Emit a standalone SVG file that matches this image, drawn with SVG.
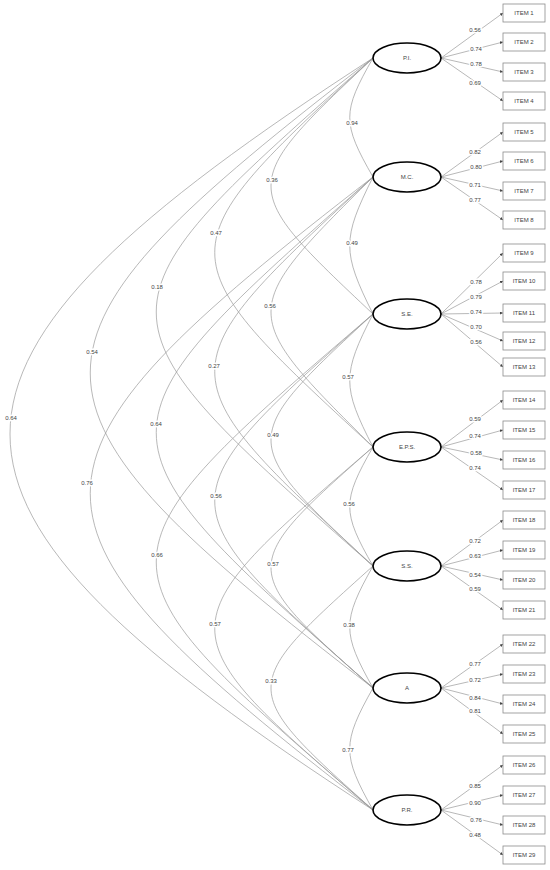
<svg xmlns="http://www.w3.org/2000/svg" width="550" height="870" viewBox="0 0 550 870">
<style>
text{font-family:"Liberation Sans",Arial,sans-serif;font-size:6px;fill:#444;text-anchor:middle;dominant-baseline:central}
.lbl{paint-order:stroke;stroke:#fff;stroke-width:3px;stroke-linejoin:round}
.cov path{fill:none;stroke:#9a9a9a;stroke-width:0.7}
.load line{stroke:#9a9a9a;stroke-width:0.7;marker-end:url(#ah)}
.lat ellipse{fill:#fff;stroke:#000;stroke-width:1.6}
.item rect{fill:#fff;stroke:#8c8c8c;stroke-width:0.8}
</style>
<defs>
<marker id="ah" viewBox="0 0 6 6" refX="6" refY="3" markerWidth="3" markerHeight="3" orient="auto" markerUnits="userSpaceOnUse">
<path d="M0,0 L6,3 L0,6 z" fill="#444"/>
</marker>
</defs>
<rect width="550" height="870" fill="#fff"/>
<g id="connectors">
<g class="cov">
<path d="M373,58 C342,112 342,123 373,177"/>
<path d="M373,177 C342,239 342,252 373,314"/>
<path d="M373,314 C342,374 342,387 373,447"/>
<path d="M373,447 C342,501 342,512 373,566"/>
<path d="M373,566 C342,621 342,633 373,688"/>
<path d="M373,688 C342,743 342,755 373,810"/>
<path d="M373,58 C237,186 237,186 373,314"/>
<path d="M373,177 C237,312 237,312 373,447"/>
<path d="M373,314 C237,440 237,440 373,566"/>
<path d="M373,447 C237,567 237,568 373,688"/>
<path d="M373,566 C237,688 237,688 373,810"/>
<path d="M373,58 C162,252 162,253 373,447"/>
<path d="M373,177 C162,371 162,372 373,566"/>
<path d="M373,314 C162,501 162,501 373,688"/>
<path d="M373,447 C162,628 162,629 373,810"/>
<path d="M373,58 C84,312 84,312 373,566"/>
<path d="M373,177 C84,432 84,433 373,688"/>
<path d="M373,314 C84,562 84,562 373,810"/>
<path d="M373,58 C-4,348 -4,398 373,688"/>
<path d="M373,177 C-4,468 -4,519 373,810"/>
<path d="M373,58 C-111,371 -111,497 373,810"/>
</g>
<g class="covlabels">
<text class="lbl" x="352" y="123">0.94</text>
<text class="lbl" x="272" y="180">0.36</text>
<text class="lbl" x="216" y="233">0.47</text>
<text class="lbl" x="157" y="287">0.18</text>
<text class="lbl" x="92" y="352">0.54</text>
<text class="lbl" x="11" y="418">0.64</text>
<text class="lbl" x="352" y="243">0.49</text>
<text class="lbl" x="270" y="306">0.56</text>
<text class="lbl" x="214" y="366">0.27</text>
<text class="lbl" x="156" y="424">0.64</text>
<text class="lbl" x="87" y="483">0.76</text>
<text class="lbl" x="348" y="377">0.57</text>
<text class="lbl" x="273" y="435">0.49</text>
<text class="lbl" x="216" y="496">0.56</text>
<text class="lbl" x="157" y="555">0.66</text>
<text class="lbl" x="349" y="504">0.56</text>
<text class="lbl" x="273" y="564">0.57</text>
<text class="lbl" x="215" y="624">0.57</text>
<text class="lbl" x="349" y="625">0.38</text>
<text class="lbl" x="271" y="681">0.33</text>
<text class="lbl" x="348" y="750">0.77</text>
</g>
<g class="load">
<line x1="441" y1="58" x2="503" y2="13"/>
<line x1="441" y1="58" x2="503" y2="42"/>
<line x1="441" y1="58" x2="503" y2="72"/>
<line x1="441" y1="58" x2="503" y2="101"/>
<line x1="441" y1="177" x2="503" y2="132"/>
<line x1="441" y1="177" x2="503" y2="161"/>
<line x1="441" y1="177" x2="503" y2="191"/>
<line x1="441" y1="177" x2="503" y2="220"/>
<line x1="441" y1="314" x2="503" y2="253"/>
<line x1="441" y1="314" x2="503" y2="281"/>
<line x1="441" y1="314" x2="503" y2="313"/>
<line x1="441" y1="314" x2="503" y2="341"/>
<line x1="441" y1="314" x2="503" y2="367"/>
<line x1="441" y1="447" x2="503" y2="400"/>
<line x1="441" y1="447" x2="503" y2="430"/>
<line x1="441" y1="447" x2="503" y2="460"/>
<line x1="441" y1="447" x2="503" y2="490"/>
<line x1="441" y1="566" x2="503" y2="520"/>
<line x1="441" y1="566" x2="503" y2="550"/>
<line x1="441" y1="566" x2="503" y2="580"/>
<line x1="441" y1="566" x2="503" y2="610"/>
<line x1="441" y1="688" x2="503" y2="644"/>
<line x1="441" y1="688" x2="503" y2="674"/>
<line x1="441" y1="688" x2="503" y2="704"/>
<line x1="441" y1="688" x2="503" y2="734"/>
<line x1="441" y1="810" x2="503" y2="765"/>
<line x1="441" y1="810" x2="503" y2="795"/>
<line x1="441" y1="810" x2="503" y2="825"/>
<line x1="441" y1="810" x2="503" y2="855"/>
</g>
<g class="loadlabels">
<text class="lbl" x="475" y="30">0.56</text>
<text class="lbl" x="476" y="49">0.74</text>
<text class="lbl" x="476" y="64">0.78</text>
<text class="lbl" x="475" y="83">0.69</text>
<text class="lbl" x="475" y="152">0.82</text>
<text class="lbl" x="476" y="167">0.80</text>
<text class="lbl" x="475" y="185">0.71</text>
<text class="lbl" x="475" y="200">0.77</text>
<text class="lbl" x="476" y="282">0.78</text>
<text class="lbl" x="476" y="297">0.79</text>
<text class="lbl" x="476" y="312">0.74</text>
<text class="lbl" x="476" y="327">0.70</text>
<text class="lbl" x="476" y="342">0.56</text>
<text class="lbl" x="475" y="419">0.59</text>
<text class="lbl" x="475" y="436">0.74</text>
<text class="lbl" x="476" y="453">0.58</text>
<text class="lbl" x="475" y="468">0.74</text>
<text class="lbl" x="475" y="541">0.72</text>
<text class="lbl" x="475" y="556">0.63</text>
<text class="lbl" x="475" y="575">0.54</text>
<text class="lbl" x="475" y="589">0.59</text>
<text class="lbl" x="475" y="664">0.77</text>
<text class="lbl" x="475" y="680">0.72</text>
<text class="lbl" x="475" y="698">0.84</text>
<text class="lbl" x="475" y="711">0.81</text>
<text class="lbl" x="475" y="786">0.85</text>
<text class="lbl" x="475" y="803">0.90</text>
<text class="lbl" x="476" y="820">0.76</text>
<text class="lbl" x="475" y="835">0.48</text>
</g>
</g>
<g class="lat">
<g id="PI"><ellipse cx="407" cy="58" rx="34" ry="15"/><text x="407" y="58">P.I.</text></g>
<g id="MC"><ellipse cx="407" cy="177" rx="34" ry="15"/><text x="407" y="177">M.C.</text></g>
<g id="SE"><ellipse cx="407" cy="314" rx="34" ry="15"/><text x="407" y="314">S.E.</text></g>
<g id="EPS"><ellipse cx="407" cy="447" rx="34" ry="15"/><text x="407" y="447">E.P.S.</text></g>
<g id="SS"><ellipse cx="407" cy="566" rx="34" ry="15"/><text x="407" y="566">S.S.</text></g>
<g id="A"><ellipse cx="407" cy="688" rx="34" ry="15"/><text x="407" y="688">A</text></g>
<g id="PR"><ellipse cx="407" cy="810" rx="34" ry="15"/><text x="407" y="810">P.R.</text></g>
</g>
<g class="item">
<g id="item1"><rect x="503" y="4" width="42" height="18"/><text x="524" y="13">ITEM 1</text></g>
<g id="item2"><rect x="503" y="33" width="42" height="18"/><text x="524" y="42">ITEM 2</text></g>
<g id="item3"><rect x="503" y="63" width="42" height="18"/><text x="524" y="72">ITEM 3</text></g>
<g id="item4"><rect x="503" y="92" width="42" height="18"/><text x="524" y="101">ITEM 4</text></g>
<g id="item5"><rect x="503" y="123" width="42" height="18"/><text x="524" y="132">ITEM 5</text></g>
<g id="item6"><rect x="503" y="152" width="42" height="18"/><text x="524" y="161">ITEM 6</text></g>
<g id="item7"><rect x="503" y="182" width="42" height="18"/><text x="524" y="191">ITEM 7</text></g>
<g id="item8"><rect x="503" y="211" width="42" height="18"/><text x="524" y="220">ITEM 8</text></g>
<g id="item9"><rect x="503" y="244" width="42" height="18"/><text x="524" y="253">ITEM 9</text></g>
<g id="item10"><rect x="503" y="272" width="42" height="18"/><text x="524" y="281">ITEM 10</text></g>
<g id="item11"><rect x="503" y="304" width="42" height="18"/><text x="524" y="313">ITEM 11</text></g>
<g id="item12"><rect x="503" y="332" width="42" height="18"/><text x="524" y="341">ITEM 12</text></g>
<g id="item13"><rect x="503" y="358" width="42" height="18"/><text x="524" y="367">ITEM 13</text></g>
<g id="item14"><rect x="503" y="391" width="42" height="18"/><text x="524" y="400">ITEM 14</text></g>
<g id="item15"><rect x="503" y="421" width="42" height="18"/><text x="524" y="430">ITEM 15</text></g>
<g id="item16"><rect x="503" y="451" width="42" height="18"/><text x="524" y="460">ITEM 16</text></g>
<g id="item17"><rect x="503" y="481" width="42" height="18"/><text x="524" y="490">ITEM 17</text></g>
<g id="item18"><rect x="503" y="511" width="42" height="18"/><text x="524" y="520">ITEM 18</text></g>
<g id="item19"><rect x="503" y="541" width="42" height="18"/><text x="524" y="550">ITEM 19</text></g>
<g id="item20"><rect x="503" y="571" width="42" height="18"/><text x="524" y="580">ITEM 20</text></g>
<g id="item21"><rect x="503" y="601" width="42" height="18"/><text x="524" y="610">ITEM 21</text></g>
<g id="item22"><rect x="503" y="635" width="42" height="18"/><text x="524" y="644">ITEM 22</text></g>
<g id="item23"><rect x="503" y="665" width="42" height="18"/><text x="524" y="674">ITEM 23</text></g>
<g id="item24"><rect x="503" y="695" width="42" height="18"/><text x="524" y="704">ITEM 24</text></g>
<g id="item25"><rect x="503" y="725" width="42" height="18"/><text x="524" y="734">ITEM 25</text></g>
<g id="item26"><rect x="503" y="756" width="42" height="18"/><text x="524" y="765">ITEM 26</text></g>
<g id="item27"><rect x="503" y="786" width="42" height="18"/><text x="524" y="795">ITEM 27</text></g>
<g id="item28"><rect x="503" y="816" width="42" height="18"/><text x="524" y="825">ITEM 28</text></g>
<g id="item29"><rect x="503" y="846" width="42" height="18"/><text x="524" y="855">ITEM 29</text></g>
</g>
</svg>
